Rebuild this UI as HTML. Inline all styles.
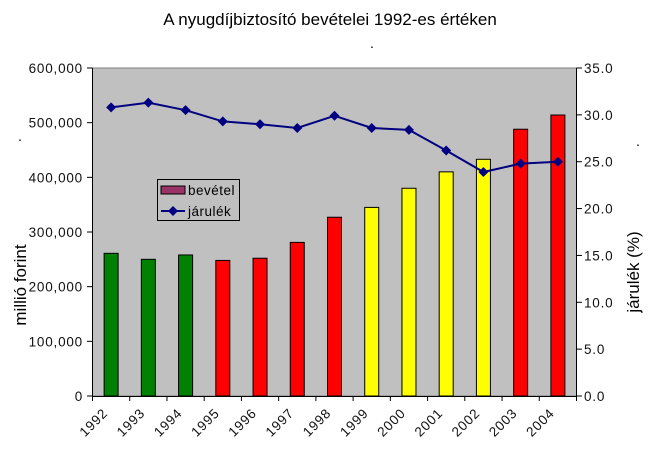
<!DOCTYPE html>
<html><head><meta charset="utf-8"><style>body{margin:0;background:#fff}svg{display:block;font-family:"Liberation Sans",Arial,sans-serif}</style></head><body>
<svg width="660" height="454" viewBox="0 0 660 454">
<text x="330" y="25" font-size="17" text-anchor="middle">A nyugdíjbiztosító bevételei 1992-es értéken</text>
<text x="372" y="48" font-size="14" text-anchor="middle">.</text>
<text x="20" y="141" font-size="14" text-anchor="middle">.</text>
<text x="638" y="146" font-size="14" text-anchor="middle">.</text>
<rect x="92.5" y="68" width="484" height="328" fill="#c0c0c0" stroke="#808080" stroke-width="1"/>
<g id="bars" stroke="#000" stroke-width="1"></g>
<g stroke="#000" stroke-width="1">
<line x1="92.5" y1="68" x2="92.5" y2="396"/><line x1="576.5" y1="68" x2="576.5" y2="396"/><line x1="92.5" y1="396.5" x2="576.5" y2="396.5"/>
</g>
<g id="ticks" stroke="#000"></g>
<g id="labs" font-size="13.5" letter-spacing="0.8" fill="#111"></g>
<polyline id="ln" fill="none" stroke="#000080" stroke-width="2"/>
<g id="mk" fill="#000080"></g>
<rect x="157.5" y="179.5" width="82" height="41" fill="#c0c0c0" stroke="#000"/>
<rect x="161" y="186" width="24" height="8" fill="#993366" stroke="#000"/>
<text x="188" y="195" font-size="13.5" letter-spacing="0.5">bevétel</text>
<line x1="161" y1="211" x2="185" y2="211" stroke="#000080" stroke-width="2"/>
<path d="M173 206 L178 211 L173 216 L168 211Z" fill="#000080"/>
<text x="188" y="216" font-size="13.5" letter-spacing="0.5">járulék</text>
<text transform="translate(26,285) rotate(-90)" font-size="17" text-anchor="middle">millió forint</text>
<text transform="translate(639,272) rotate(-90)" font-size="17" text-anchor="middle">járulék (%)</text>
</svg>
<script>
var ns="http://www.w3.org/2000/svg";
function el(t,a,p,txt){var e=document.createElementNS(ns,t);for(var k in a)e.setAttribute(k,a[k]);if(txt)e.textContent=txt;document.getElementById(p).appendChild(e);return e;}
var L=92.5,W=484/13,B=396,T=68;
var v=[261000,250000,258000,248000,252000,281000,327000,345000,380000,410000,433000,488000,514000];
var c=["#008000","#008000","#008000","#f00","#f00","#f00","#f00","#ff0","#ff0","#ff0","#ff0","#f00","#f00"];
var j=[30.8,31.3,30.5,29.3,29.0,28.6,29.9,28.6,28.4,26.2,23.9,24.8,25.0];
var pts=[];
for(var i=0;i<13;i++){var cx=L+W*(i+0.5);var h=v[i]/600000*328;
el("rect",{x:cx-7,y:B-h,width:14,height:h,fill:c[i]},"bars");
var y=B-j[i]/35*328;pts.push(cx+","+y);
el("path",{d:"M"+cx+" "+(y-5)+" L"+(cx+5)+" "+y+" L"+cx+" "+(y+5)+" L"+(cx-5)+" "+y+"Z"},"mk");
var yr=1992+i;el("text",{transform:"translate("+(L+W*i+16)+",414) rotate(-45)","text-anchor":"end"},"labs",String(yr));}
document.getElementById("ln").setAttribute("points",pts.join(" "));
for(var i=0;i<=13;i++){var x=L+W*i;el("line",{x1:x,y1:396,x2:x,y2:401},"ticks");}
for(var k=0;k<=6;k++){var y=B-k*328/6;el("line",{x1:87,y1:y,x2:92.5,y2:y},"ticks");
el("text",{x:83,y:y+5,"text-anchor":"end"},"labs",k==0?"0":(k*100)+",000");}
for(var k=0;k<=7;k++){var y=B-k*328/7;el("line",{x1:576.5,y1:y,x2:582,y2:y},"ticks");
el("text",{x:584,y:y+5},"labs",(k*5).toFixed(1));}
</script>
</body></html>
